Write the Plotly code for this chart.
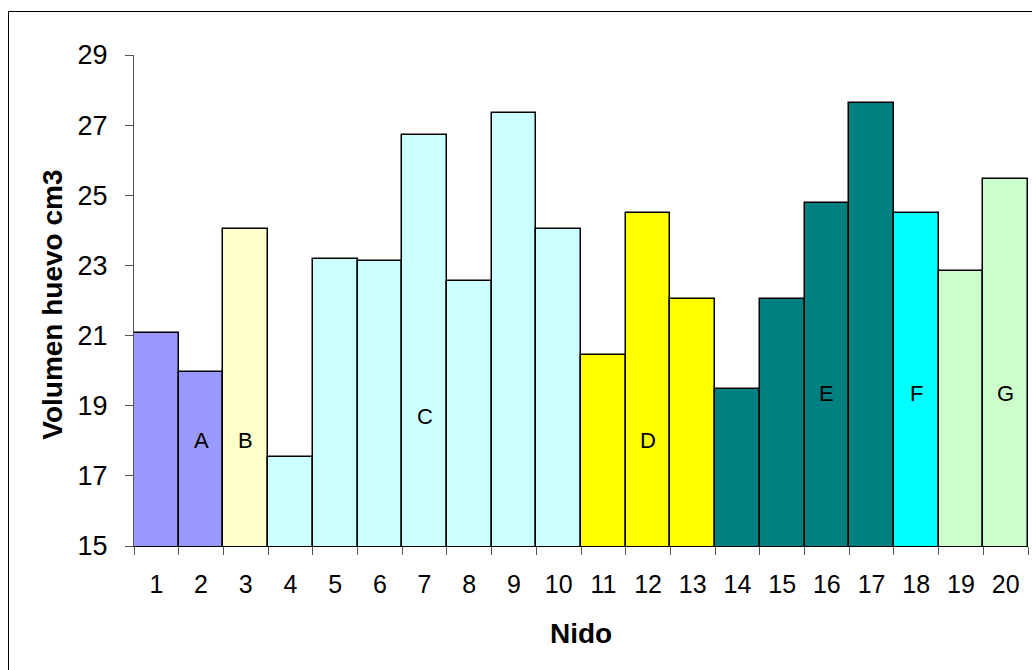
import plotly.graph_objects as go

# Data
nidos = [str(i) for i in range(1, 21)]
volumen = [21.07, 19.95, 24.04, 17.55, 23.19, 23.13, 26.72, 22.56, 27.35, 24.04,
           20.45, 24.50, 22.04, 19.48, 22.04, 24.78, 27.63, 24.50, 22.84, 25.46]
grupo = ["A", "A", "B", "C", "C", "C", "C", "C", "C", "C",
         "D", "D", "D", "E", "E", "E", "E", "F", "G", "G"]
grupo_colores = {"A": "#9999FF", "B": "#FFFFCC", "C": "#CCFFFF", "D": "#FFFF00",
                 "E": "#008080", "F": "#00FFFF", "G": "#CCFFCC"}

# group labels drawn on bars
etiquetas = ["A", "B", "C", "D", "E", "F", "G"]
etiqueta_nido = ["2", "3", "7", "12", "16", "18", "20"]
etiqueta_y = [18.02, 18.02, 18.69, 18.02, 19.36, 19.36, 19.36]

FONT = "Liberation Sans, Arial, sans-serif"

fig = go.Figure()
fig.add_trace(go.Bar(
    x=nidos, y=volumen,
    marker=dict(color=[grupo_colores[g] for g in grupo],
                line=dict(color="black", width=1.5)),
    showlegend=False, hoverinfo="x+y",
))

for lab, nx, ny in zip(etiquetas, etiqueta_nido, etiqueta_y):
    fig.add_annotation(x=nidos.index(nx), y=ny, text=lab, showarrow=False,
                       font=dict(family=FONT, size=22, color="black"),
                       xanchor="center", yanchor="middle")

W, H = 1032, 670
L, R, T, B = 134, 4, 55, 124
pw, ph = W - L - R, H - T - B

fig.update_layout(
    width=W, height=H,
    margin=dict(l=L, r=R, t=T, b=B, pad=0),
    paper_bgcolor="white", plot_bgcolor="white",
    bargap=0,
    font=dict(family=FONT, color="black"),
    xaxis=dict(type="category", categoryorder="array", categoryarray=nidos,
               range=[-0.5, len(nidos) - 0.5],
               tickson="boundaries", ticks="outside", ticklen=8, tickwidth=1,
               tickcolor="#555555", showline=True, linecolor="black", linewidth=1,
               showgrid=False, zeroline=False,
               tickfont=dict(family=FONT, size=25, color="black"),
               ticklabelstandoff=16),
    yaxis=dict(range=[15, 29], tickvals=[15, 17, 19, 21, 23, 25, 27, 29],
               ticks="outside", ticklen=8, tickwidth=1, tickcolor="#555555",
               showline=True, linecolor="#555555", linewidth=1,
               showgrid=False, zeroline=False,
               tickfont=dict(family=FONT, size=27, color="black"),
               ticklabelstandoff=12),
)

# axis titles
fig.add_annotation(xref="paper", yref="paper", x=0.5, y=(T + ph - 633) / ph,
                   text="<b>Nido</b>", showarrow=False,
                   font=dict(family=FONT, size=28, color="black"),
                   xanchor="center", yanchor="middle")
fig.add_annotation(xref="paper", yref="paper", x=(51.7 - L) / pw, y=(T + ph - 305) / ph,
                   text="<b>Volumen huevo cm3</b>", showarrow=False, textangle=-90,
                   font=dict(family=FONT, size=28, color="black"),
                   xanchor="center", yanchor="middle")

# outer chart border (left and top edges visible)
fig.add_shape(type="rect", xref="paper", yref="paper",
              x0=(8.5 - L) / pw, x1=(1040 - L) / pw,
              y0=(T + ph - 680) / ph, y1=(T + ph - 11.5) / ph,
              line=dict(color="black", width=1), fillcolor="rgba(0,0,0,0)",
              layer="below")

fig.write_html("out.html")
